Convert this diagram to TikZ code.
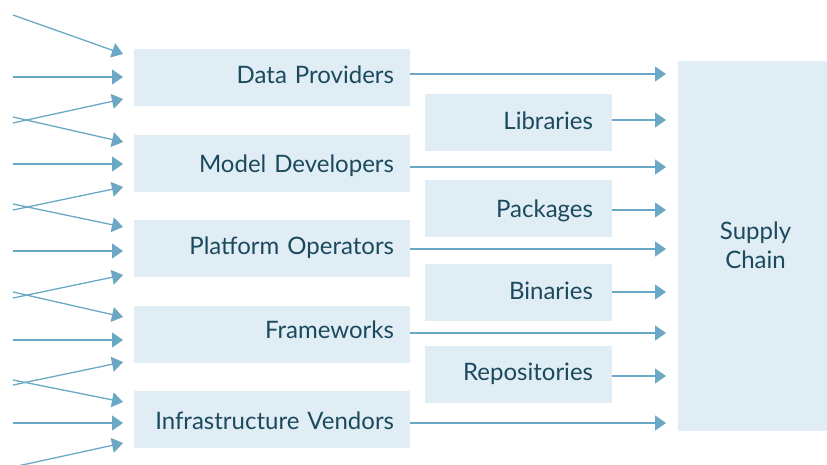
\documentclass[tikz,border=0pt]{standalone}
\usepackage{fontspec}
\setmainfont{Lato}
\usetikzlibrary{arrows.meta}
\definecolor{boxfill}{HTML}{E0EDF4}
\definecolor{ink}{HTML}{1B4A5E}
\definecolor{flowcol}{HTML}{6BA8C5}
\begin{document}
\begin{tikzpicture}[x=1pt,y=-1pt,
  label font/.style={font=\fontsize{24}{29}\selectfont},
  % baseline sits #1/2 below the box centre
  lift/.style={text height=#1, text depth=0pt},
  actor/.style={fill=boxfill, text=ink, label font, minimum height=56.5pt,
    inner ysep=0pt, inner xsep=16pt, text width=244pt, align=right},
  artifact/.style={fill=boxfill, text=ink, label font, minimum height=56.5pt,
    inner ysep=0pt, inner xsep=19pt, text width=149pt, align=right},
  sink/.style={fill=boxfill, text=ink, label font, minimum width=155pt,
    minimum height=370pt, inner sep=0pt, align=center},
  flow/.style={draw=flowcol, line width=1.3pt,
    -{Triangle[length=11pt,width=15pt]}},
]
\clip (0,0) rectangle (827,464);

% actors feeding the supply chain
\node[actor, lift=12pt]   (dp) at (272,77.3)  {Data Providers};
\node[actor, lift=17pt]   (md) at (272,163.5) {Model Developers};
\node[actor, lift=11.4pt] (po) at (272,248.3) {Platform Operators};
\node[actor, lift=7pt]    (fw) at (272,334.5) {Frameworks};
\node[actor, lift=20pt]   (iv) at (272,419.3) {Infrastructure Vendors};

% artifacts
\node[artifact, lift=13.4pt] (lib)  at (518.5,122.3) {Libraries};
\node[artifact, lift=18.6pt] (pkg)  at (518.5,208.3) {Packages};
\node[artifact, lift=13.4pt] (bin)  at (518.5,292.3) {Binaries};
\node[artifact, lift=12.6pt] (repo) at (518.5,374.3) {Repositories};

% supply chain
\node[sink] (sc) at (755.5,245.5) {Supply\\Chain};

% arrow tips in front of the supply chain
\foreach \n/\y in {s1/74,s2/120,s3/167,s4/210,s5/249,s6/292,s7/333,s8/376,s9/423}
  \coordinate (\n) at (666,\y);

\draw[flow] (dp.east |- s1) -- (s1);
\draw[flow] (lib.east |- s2) -- (s2);
\draw[flow] (md.east |- s3) -- (s3);
\draw[flow] (pkg.east |- s4) -- (s4);
\draw[flow] (po.east |- s5) -- (s5);
\draw[flow] (bin.east |- s6) -- (s6);
\draw[flow] (fw.east |- s7) -- (s7);
\draw[flow] (repo.east |- s8) -- (s8);
\draw[flow] (iv.east |- s9) -- (s9);

% incoming arrows on the left
\foreach \n/\sy/\ty in {a1/15/54, a2/77/77, a3/123/99,
                        b1/117/142, b2/164/164, b3/210/187,
                        c1/204/227, c2/251/251, c3/298/275,
                        d1/292/317, d2/340/340, d3/385/362,
                        e1/380/402, e2/423/423, e3/467/443} {
  \coordinate (\n src) at (13,\sy);
  \coordinate (\n tip) at (123,\ty);
  \draw[flow] (\n src) -- (\n tip);
}
\end{tikzpicture}
\end{document}
